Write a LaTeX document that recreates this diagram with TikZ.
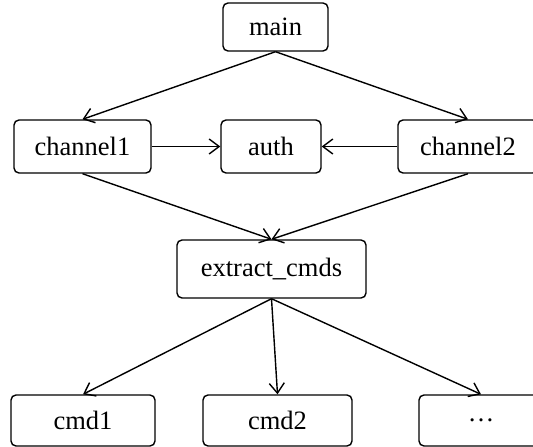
\documentclass[tikz,border=0pt]{standalone}
\usepackage{fontspec}
\setmainfont{Liberation Serif}
\usetikzlibrary{arrows.meta}
\begin{document}
\begin{tikzpicture}[x=1pt,y=-1pt,
  box/.style={draw,line width=1.4pt,rounded corners=5pt,inner sep=0pt,font=\fontsize{26.5}{30}\selectfont},
  edge/.style={line width=1.4pt,-{Straight Barb[length=10pt,width=15pt,line width=1.4pt]}}]
\useasboundingbox (0,0) rectangle (533,447);
\begin{scope}
\clip (0,0) rectangle (533,447);
\node[box,minimum width=105pt,minimum height=48pt] (main) at (275.5,27) {main};
\node[box,minimum width=137pt,minimum height=53pt] (ch1) at (82.5,146.5) {channel1};
\node[box,minimum width=100pt,minimum height=53pt] (auth) at (271,146.5) {auth};
\node[box,minimum width=140pt,minimum height=53pt] (ch2) at (468,146.5) {channel2};
\node[box,minimum width=189pt,minimum height=58pt] (ext) at (271.5,269) {extract\_cmds};
\node[box,minimum width=144pt,minimum height=51pt] (cmd1) at (83,420.5) {cmd1};
\node[box,minimum width=149pt,minimum height=51pt] (cmd2) at (277.5,420.5) {cmd2};
\node[box,minimum width=124pt,minimum height=51pt] (dots) at (481,420.5) {\ldots};
\draw[edge] (main.south) -- (ch1.north);
\draw[edge] (main.south) -- (ch2.north);
\draw[edge] (ch1.east) -- (auth.west);
\draw[edge] (ch2.west) -- (auth.east);
\draw[edge] (ch1.south) -- (ext.north);
\draw[edge] (ch2.south) -- (ext.north);
\draw[edge] (ext.south) -- (cmd1.north);
\draw[edge] (ext.south) -- (cmd2.north);
\draw[edge] (ext.south) -- (dots.north);
\end{scope}
\end{tikzpicture}
\end{document}
